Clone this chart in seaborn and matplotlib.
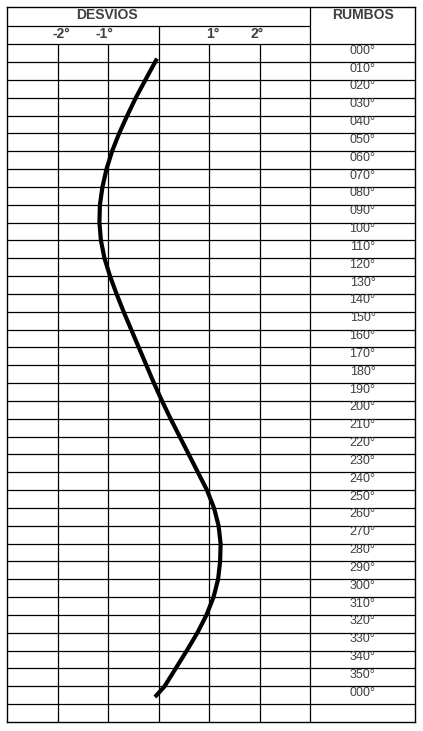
import numpy as np
import pandas as pd
import matplotlib
matplotlib.use("Agg")
import matplotlib.pyplot as plt
import seaborn as sns

# ---------------- data ----------------
rumbos = [f"{h:03d}°" for h in range(0, 360, 10)] + ["000°"]
rumbo_values = list(range(0, 370, 10))
desvio_ticks = [-2, -1, 1, 2]
desvio_labels = ["-2°", "-1°", "1°", "2°"]

curve_heading = [3, 15, 25, 35, 45, 55, 65, 75, 85, 95, 105, 115, 125, 135,
                 145, 155, 165, 175, 185, 195, 205, 215, 225, 235, 245, 255,
                 265, 275, 285, 295, 305, 315, 325, 335, 345, 355, 361]
curve_desvio = [-0.03, -0.26, -0.45, -0.62, -0.78, -0.92, -1.03, -1.11, -1.16,
                -1.17, -1.14, -1.07, -0.96, -0.83, -0.69, -0.54, -0.39, -0.24,
                -0.09, 0.07, 0.24, 0.42, 0.60, 0.78, 0.96, 1.10, 1.19, 1.23,
                1.22, 1.18, 1.09, 0.95, 0.77, 0.56, 0.34, 0.12, -0.07]

df = pd.DataFrame({"rumbo": curve_heading, "desvio": curve_desvio})

# ---------------- style ----------------
sns.set_theme(style="white")
plt.rcParams["font.family"] = ["Liberation Sans", "DejaVu Sans"]

W, H = 423, 731
fig = plt.figure(figsize=(W / 100, H / 100), dpi=100)
fig.patch.set_facecolor("white")

left_px, right_px, top_px, bot_px = 7, 415, 7, 722
ax = fig.add_axes([left_px / W, (H - bot_px) / H,
                   (right_px - left_px) / W, (bot_px - top_px) / H])

px_per_deg = 50.5
row_px = (bot_px - 44.3) / 38.0          # pixel height of one 10° row
px_per_head = row_px / 10.0
x_min = -3.0
x_rumbo = 3.0
x_max = x_rumbo + (right_px - 310) / px_per_deg
y_bottom = 375.0
y_top = -5.0 - (44.3 - top_px) / px_per_head
y_mid = -5.0 - (44.3 - 25.7) / px_per_head

ax.set_xlim(x_min, x_max)
ax.set_ylim(y_bottom, y_top)
ax.set_xticks([])
ax.set_yticks([])
for s in ax.spines.values():
    s.set_color("black")
    s.set_linewidth(1.0)

lw = 0.9
row_edges = [v - 5 for v in rumbo_values] + [rumbo_values[-1] + 5]
ax.hlines(row_edges, x_min, x_max, color="black", lw=lw)
ax.hlines([y_mid], x_min, x_rumbo, color="black", lw=lw)
ax.vlines(desvio_ticks, -5, y_bottom, color="black", lw=lw)
ax.vlines([0], y_mid, y_bottom, color="black", lw=lw)
ax.vlines([x_rumbo], y_top, y_bottom, color="black", lw=lw)

sns.lineplot(data=df, x="desvio", y="rumbo", sort=False, estimator=None,
             color="black", lw=3.0, ax=ax, solid_capstyle="butt",
             solid_joinstyle="round")
ax.set_xlabel("")
ax.set_ylabel("")

txt = "#3f3f3f"
head_y = -5.0 - (44.3 - 15.3) / px_per_head
sub_y = -5.0 - (44.3 - 33.5) / px_per_head
ax.text(-1.03, head_y, "DESVIOS", ha="center", va="center", fontsize=10,
        fontweight="bold", color=txt)
ax.text((x_rumbo + x_max) / 2, head_y, "RUMBOS", ha="center", va="center",
        fontsize=10, fontweight="bold", color=txt)
for v, lab in zip(desvio_ticks, desvio_labels):
    ax.annotate(lab, (v, sub_y), xytext=(2.5 if v < 0 and v == -2 else (-2.5 if v == -1 else (2.5 if v == 1 else -2)), 0),
                textcoords="offset points", ha="center", va="center",
                fontsize=10, fontweight="bold", color=txt)

rx = (x_rumbo + x_max) / 2
for v, lab in zip(rumbo_values, rumbos):
    ax.annotate(lab, (rx, v), xytext=(0, 1.8), textcoords="offset points",
                ha="center", va="center", fontsize=9, color=txt)

fig.savefig("out.png", dpi=100, facecolor="white")
